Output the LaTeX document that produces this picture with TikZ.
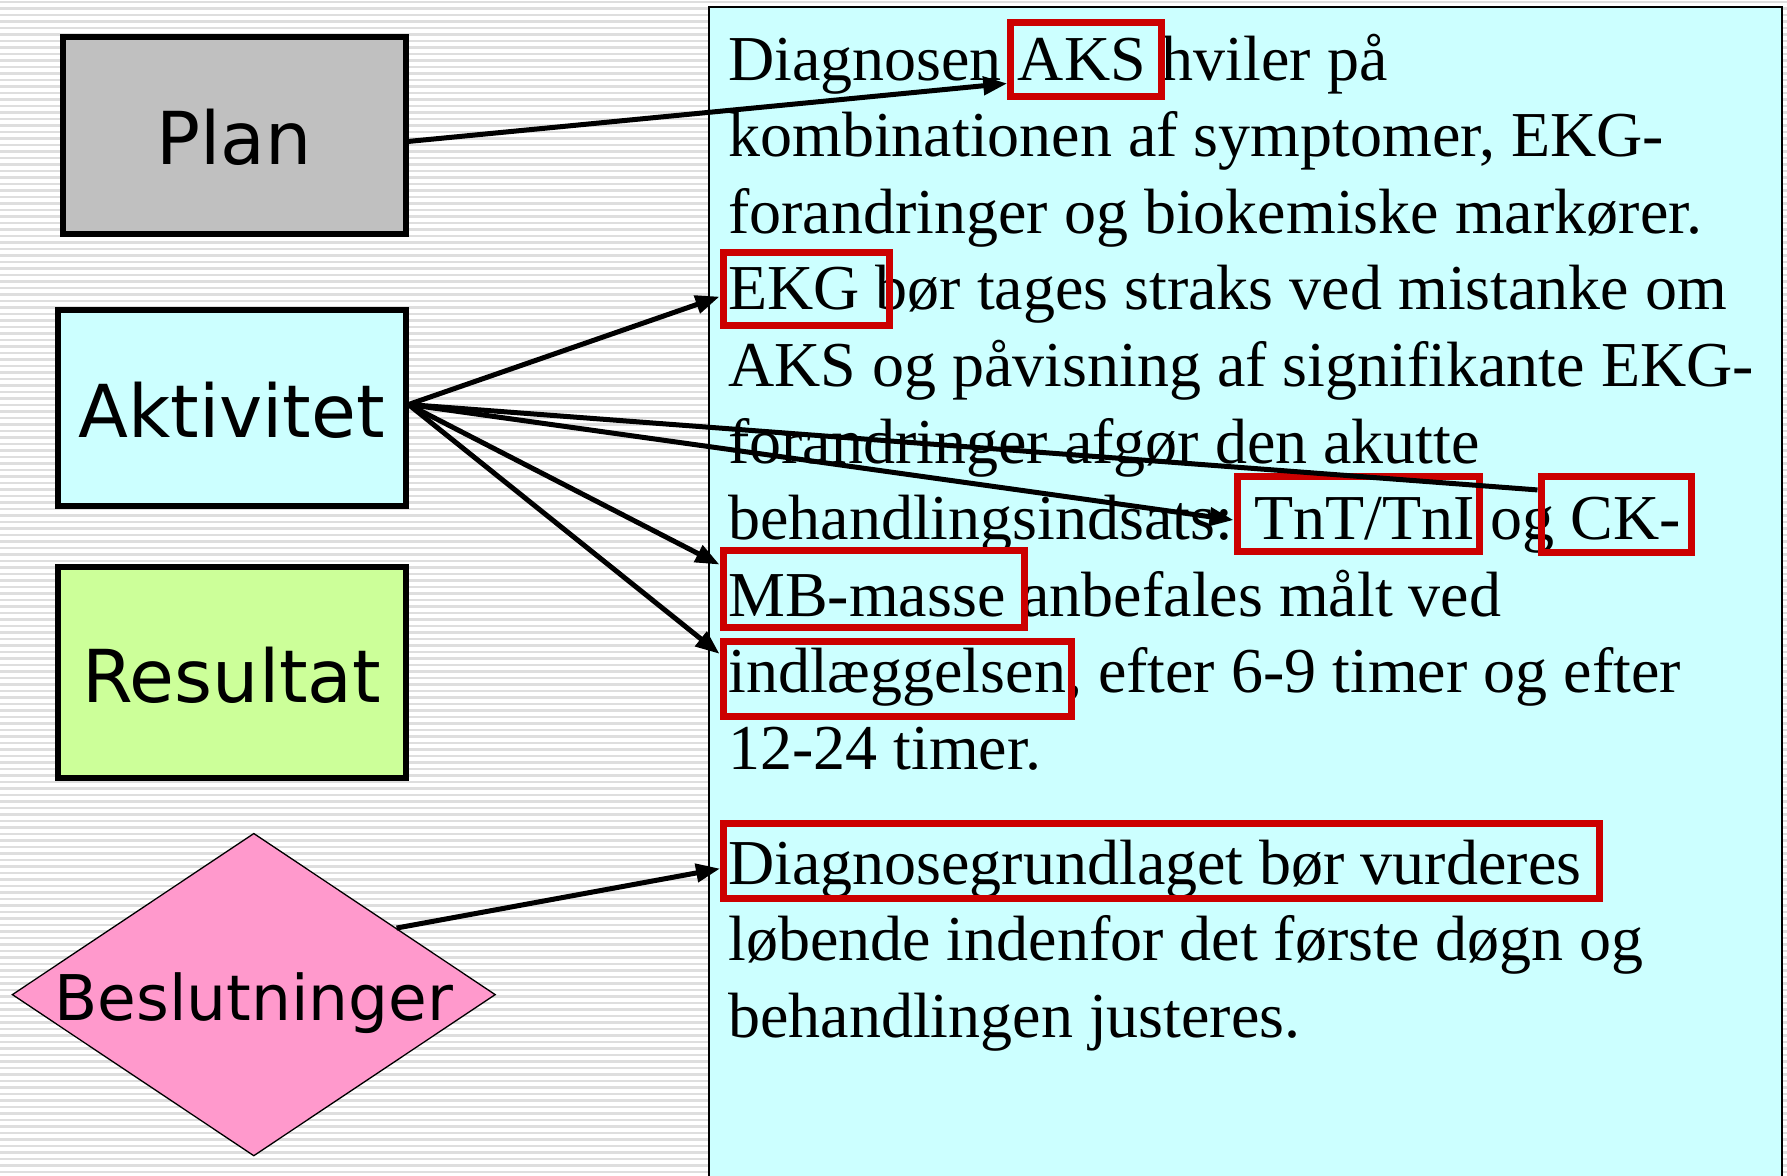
\documentclass[tikz,border=0pt]{standalone}
\usepackage{fontspec}
\setmainfont{Liberation Serif}
\newfontfamily\lblfont{DejaVu Sans}
\usetikzlibrary{arrows.meta,shapes.geometric}
\definecolor{stripegray}{HTML}{DEDEDE}
\definecolor{panelcyan}{HTML}{CCFFFF}
\definecolor{plangray}{HTML}{C0C0C0}
\definecolor{resgreen}{HTML}{CCFF99}
\definecolor{decpink}{HTML}{FF99CC}
\definecolor{boxred}{HTML}{CC0000}

\begin{document}
\begin{tikzpicture}[x=1pt,y=-1pt,
  catbox/.style={rectangle, draw=black, line width=6pt, inner sep=0pt,
    text height=59pt, text depth=0pt, font=\lblfont\fontsize{73}{80}\selectfont},
  bodyline/.style={anchor=base west, inner sep=0pt, font=\fontsize{64}{76}\selectfont},
  redbox/.style={rectangle, draw=boxred, line width=7pt, inner sep=0pt},
  link/.style={line width=5pt, -{Triangle[length=24pt,width=18pt]}},
  plainlink/.style={line width=5pt},
]
\useasboundingbox (0,0) rectangle (1787,1175);
\clip (0,0) rectangle (1787,1175);

% striped backdrop
\fill[white] (0,0) rectangle (1787,1175);
\foreach \y in {2,8.5,...,1175}
  \draw[stripegray, line width=2.5pt] (0,\y) -- (1787,\y);

% text panel
\draw[fill=panelcyan, line width=2pt] (708.5,7) rectangle (1781.5,1190);

% panel text, one node per printed line
\node[bodyline] (l1)  at (728,80)    {Diagnosen AKS hviler på};
\node[bodyline] (l2)  at (728,156.6) {kombinationen af symptomer, EKG-};
\node[bodyline] (l3)  at (728,233.2) {forandringer og biokemiske markører.};
\node[bodyline] (l4)  at (728,309.8) {EKG bør tages straks ved mistanke om};
\node[bodyline] (l5)  at (728,386.4) {AKS og påvisning af signifikante EKG-};
\node[bodyline] (l6)  at (728,463.0) {forandringer afgør den akutte};
\node[bodyline] (l7)  at (728,539.5) {behandlingsindsats: TnT/TnI og CK-};
\node[bodyline] (l8)  at (728,616.1) {MB-masse anbefales målt ved};
\node[bodyline] (l9)  at (728,692.7) {indlæggelsen, efter 6-9 timer og efter};
\node[bodyline] (l10) at (728,769.3) {12-24 timer.};
\node[bodyline] (l11) at (728,884)   {Diagnosegrundlaget bør vurderes};
\node[bodyline] (l12) at (728,960.7) {løbende indenfor det første døgn og};
\node[bodyline] (l13) at (728,1037.3){behandlingen justeres.};

% highlighted terms
\node[redbox, minimum width=150.7pt, minimum height=73.7pt] (aks)  at (1086.05,59.35) {};
\node[redbox, minimum width=166pt,   minimum height=73.5pt] (ekg)  at (806,289.05) {};
\node[redbox, minimum width=242pt,   minimum height=75pt]   (tnt)  at (1358,513.5) {};
\node[redbox, minimum width=150.5pt, minimum height=76pt]   (ck)   at (1616.25,514) {};
\node[redbox, minimum width=301.5pt, minimum height=77pt]   (mb)   at (873.75,589) {};
\node[redbox, minimum width=348pt,   minimum height=75.5pt] (indl) at (897,678.75) {};
\node[redbox, minimum width=876pt,   minimum height=75.2pt] (diag) at (1161.5,860.9) {};

% category shapes
\node[catbox, fill=plangray, minimum width=342.5pt, minimum height=196.4pt] (plan) at (234.25,135.35) {Plan};
\node[catbox, fill=panelcyan, minimum width=347.5pt, minimum height=195.8pt] (akt) at (231.75,407.6) {Aktivitet};
\node[catbox, fill=resgreen, minimum width=347.5pt, minimum height=211pt] (res) at (231.75,672.5) {Resultat};
\node[diamond, aspect=1.5, draw=black, line width=1.3pt, fill=decpink, inner sep=0pt,
  minimum width=483.3pt, minimum height=322.7pt, text height=50.8pt, text depth=0pt,
  font=\lblfont\fontsize{63}{70}\selectfont] (besl) at (253.8,994.6) {Beslutninger};

% connectors
\draw[link] (plan.-2.1) -- (aks.197.4);
\draw[plainlink] (akt.1.8) -- (ck.163);
\draw[link] (akt.1.8) -- (tnt.183.1);
\draw[link] (akt.1.8) -- (ekg.185);
\draw[link] (akt.1.8) -- (mb.171);
\draw[link] (akt.1.8) -- (indl.172.2);
\draw[link] (besl.25.7) -- (diag.181.1);
\end{tikzpicture}
\end{document}
